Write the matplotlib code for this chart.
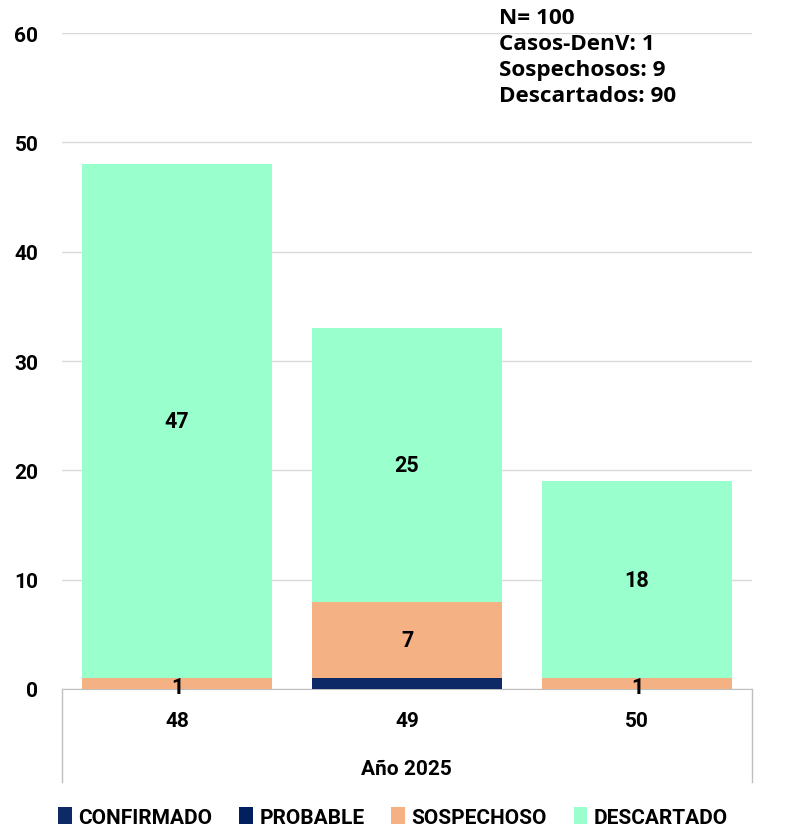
import matplotlib
matplotlib.use("Agg")
import matplotlib.pyplot as plt
from matplotlib.lines import Line2D
from matplotlib.patches import Patch

weeks = ["48", "49", "50"]
confirmado = [0, 1, 0]
probable = [0, 0, 0]
sospechoso = [1, 7, 1]
descartado = [47, 25, 18]
series_names = ["CONFIRMADO", "PROBABLE", "SOSPECHOSO", "DESCARTADO"]
colors = ["#0E2A66", "#002060", "#F4B183", "#99FFCC"]
summary = ["N= 100", "Casos-DenV: 1", "Sospechosos: 9", "Descartados: 90"]
xlabel = "Año 2025"

plt.rcParams['font.family'] = ['Roboto', 'DejaVu Sans']
plt.rcParams['font.weight'] = 'bold'
fig = plt.figure(figsize=(7.95, 8.28), dpi=100)
ax = fig.add_axes([62/795, (828-690)/828, 690/795, 656/828])

x = list(range(len(weeks)))
w = 0.826
bottom = [0]*len(weeks)
for name, vals, c in zip(series_names, [confirmado, probable, sospechoso, descartado], colors):
    ax.bar(x, vals, w, bottom=bottom, color=c, label=name, zorder=3)
    for xi, v, b in zip(x, vals, bottom):
        if v > 0 and name in ("SOSPECHOSO", "DESCARTADO"):
            ax.text(xi, b + v/2 - (0.3 if v == 1 else 0), str(v), ha='center', va='center',
                    fontsize=15.5, fontweight='bold', color='black', zorder=4)
    bottom = [b + v for b, v in zip(bottom, vals)]

ax.set_xlim(-0.5, 2.5)
ax.set_ylim(0, 60)
ax.set_yticks(range(0, 61, 10))
ax.yaxis.grid(True, color='#D9D9D9', linewidth=1, zorder=0)
ax.set_axisbelow(True)
for s in ['top', 'right', 'left']:
    ax.spines[s].set_visible(False)
ax.spines['bottom'].set_color('#BFBFBF')
ax.tick_params(axis='y', length=0, labelsize=15, pad=17)
ax.tick_params(axis='x', length=0, labelsize=15, pad=16)
for lab in ax.get_yticklabels():
    lab.set_fontweight('bold')
ax.set_xticks(x)
ax.set_xticklabels(weeks, fontweight='bold')

# category box lines
for xf in [62/795, 752/795]:
    fig.add_artist(Line2D([xf, xf], [(828-690)/828, (828-783)/828], color='#BFBFBF', linewidth=1))
fig.text(406/795, 1 - 770/828, xlabel, ha='center', va='center', fontsize=15, fontweight='bold')

# summary text
for i, s in enumerate(summary):
    fig.text(499/795, 1 - (18 + i*26.3)/828, s, ha='left', va='center', fontsize=16.2,
             fontweight='bold', family=['Open Sans', 'DejaVu Sans'])

handles = [Patch(facecolor=c, edgecolor='none') for c in colors]
fig.legend(handles, series_names, loc='center', bbox_to_anchor=(393/795, 1 - 818/828), ncol=4,
           frameon=False, prop={'size': 15, 'weight': 'bold'}, handlelength=0.65, handleheight=0.85,
           handletextpad=0.3, columnspacing=1.3)

fig.savefig("out.png", dpi=100)
